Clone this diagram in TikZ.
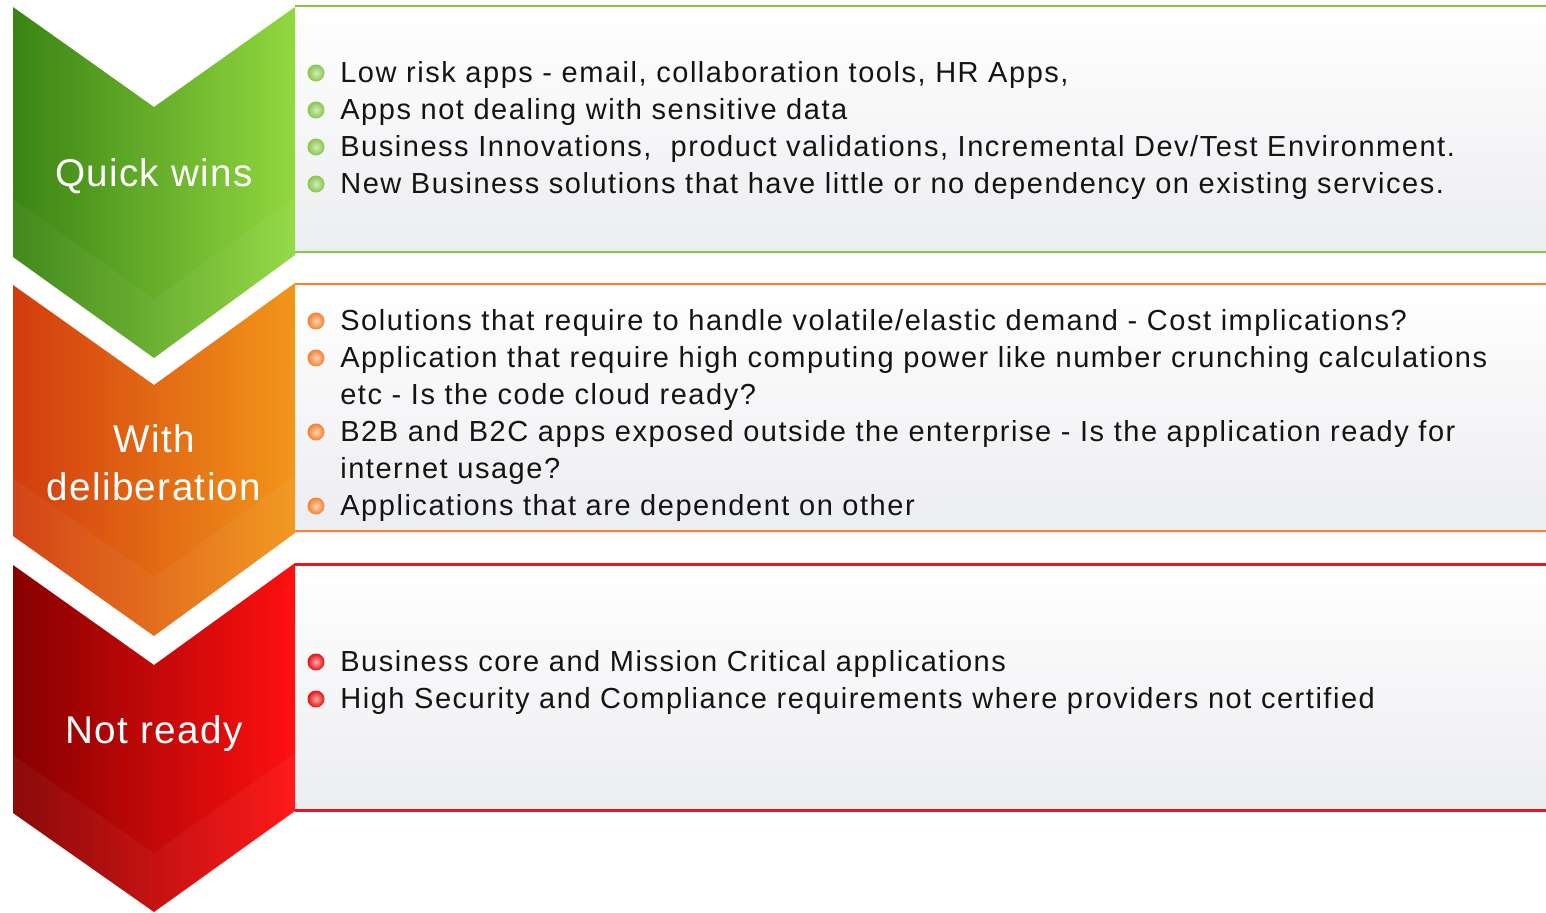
\documentclass[tikz,border=0pt]{standalone}
\usepackage{fontspec}
\setmainfont{Liberation Sans}

\definecolor{qwdark}{HTML}{3A8414}
\definecolor{qwlight}{HTML}{92D840}
\definecolor{qwline}{HTML}{8CC63F}
\definecolor{qwdot}{HTML}{86C648}
\definecolor{wddark}{HTML}{D23C0E}
\definecolor{wdlight}{HTML}{F2961A}
\definecolor{wdline}{HTML}{FF7F2A}
\definecolor{wddot}{HTML}{F7802E}
\definecolor{nrdark}{HTML}{860000}
\definecolor{nrlight}{HTML}{FF1010}
\definecolor{nrline}{HTML}{E8141E}
\definecolor{nrdot}{HTML}{E81010}
\definecolor{boxgray}{HTML}{ECEDF0}
\definecolor{textgray}{HTML}{141414}

\begin{document}
\begin{tikzpicture}[x=0.02cm,y=-0.02cm,
    itemtext/.style={anchor=base west,inner sep=0pt,text=textgray,
        font=\fontsize{16.5}{21}\selectfont\addfontfeature{LetterSpace=5.3}},
    steptext/.style={anchor=base,inner sep=0pt,text=white,
        font=\fontsize{22}{27}\selectfont\addfontfeature{LetterSpace=3.5}},
    bulletdot/.style={circle,inner sep=0pt,minimum size=0.34cm,
        inner color=#1!35!white,outer color=#1},
    boxline/.style={draw=#1,line width=1.7pt}]
        \useasboundingbox (0,0) rectangle (1546,913);

        \def\quickwins{(13,7) -- (154,107) -- (295,7) -- (295,255) -- (154,358) -- (13,257) -- cycle}
        \def\deliberation{(13,285) -- (154,385) -- (295,283) -- (295,533) -- (154,636) -- (13,536) -- cycle}
        \def\notready{(13,565) -- (154,665) -- (295,563) -- (295,811) -- (154,912) -- (13,813) -- cycle}

        % Boxes behind the chevrons
        \shade[top color=white,bottom color=boxgray] (295,5) rectangle (1546,253);
        \draw[boxline=qwline] (295,6) -- (1546,6);
        \draw[boxline=qwline] (295,252) -- (1546,252);
        \shade[top color=white,bottom color=boxgray] (295,283) rectangle (1546,532);
        \draw[boxline=wdline] (295,284) -- (1546,284);
        \draw[boxline=wdline] (295,531) -- (1546,531);
        \shade[top color=white,bottom color=boxgray] (295,563) rectangle (1546,811);
        \draw[boxline=nrline] (295,564) -- (1546,564);
        \draw[boxline=nrline] (295,810) -- (1546,810);

        % Chevrons with a lighter band at the bottom
        \shade[left color=qwdark,right color=qwlight] \quickwins;
        \fill[white,opacity=0.045] (13,199) -- (154,299) -- (295,197) -- (295,255) -- (154,358) -- (13,257) -- cycle;
        \shade[left color=wddark,right color=wdlight] \deliberation;
        \fill[white,opacity=0.045] (13,478) -- (154,577) -- (295,475) -- (295,533) -- (154,636) -- (13,536) -- cycle;
        \shade[left color=nrdark,right color=nrlight] \notready;
        \fill[white,opacity=0.045] (13,755) -- (154,853) -- (295,753) -- (295,811) -- (154,912) -- (13,813) -- cycle;

        \node[steptext] (qwlabel) at (154,186) {Quick wins};
        \node[steptext] (wdlabel) at (154,452) {With};
        \node[steptext] (wdlabelb) at (154,500) {deliberation};
        \node[steptext] (nrlabel) at (154,743) {Not ready};

        % Quick wins items
        \node[bulletdot=qwdot] (qwdot1) at (316,73) {};
        \node[itemtext] (qw1) at (340,82) {Low risk apps - email, collaboration tools, HR Apps,};
        \node[bulletdot=qwdot] (qwdot2) at (316,110) {};
        \node[itemtext] (qw2) at (340,119) {Apps not dealing with sensitive data};
        \node[bulletdot=qwdot] (qwdot3) at (316,147) {};
        \node[itemtext] (qw3) at (340,156) {Business Innovations,\ \ product validations, Incremental Dev/Test Environment.};
        \node[bulletdot=qwdot] (qwdot4) at (316,184) {};
        \node[itemtext] (qw4) at (340,193) {New Business solutions that have little or no dependency on existing services.};

        % With deliberation items
        \node[bulletdot=wddot] (wddot1) at (316,321) {};
        \node[itemtext] (wd1) at (340,330) {Solutions that require to handle volatile/elastic demand - Cost implications?};
        \node[bulletdot=wddot] (wddot2) at (316,358) {};
        \node[itemtext] (wd2) at (340,367) {Application that require high computing power like number crunching calculations};
        \node[itemtext] (wd2b) at (340,404) {etc - Is the code cloud ready?};
        \node[bulletdot=wddot] (wddot3) at (316,432) {};
        \node[itemtext] (wd3) at (340,441) {B2B and B2C apps exposed outside the enterprise - Is the application ready for};
        \node[itemtext] (wd3b) at (340,478) {internet usage?};
        \node[bulletdot=wddot] (wddot4) at (316,506) {};
        \node[itemtext] (wd4) at (340,515) {Applications that are dependent on other};

        % Not ready items
        \node[bulletdot=nrdot] (nrdot1) at (316,662) {};
        \node[itemtext] (nr1) at (340,671) {Business core and Mission Critical applications};
        \node[bulletdot=nrdot] (nrdot2) at (316,699) {};
        \node[itemtext] (nr2) at (340,708) {High Security and Compliance requirements where providers not certified};
    \end{tikzpicture}
\end{document}
